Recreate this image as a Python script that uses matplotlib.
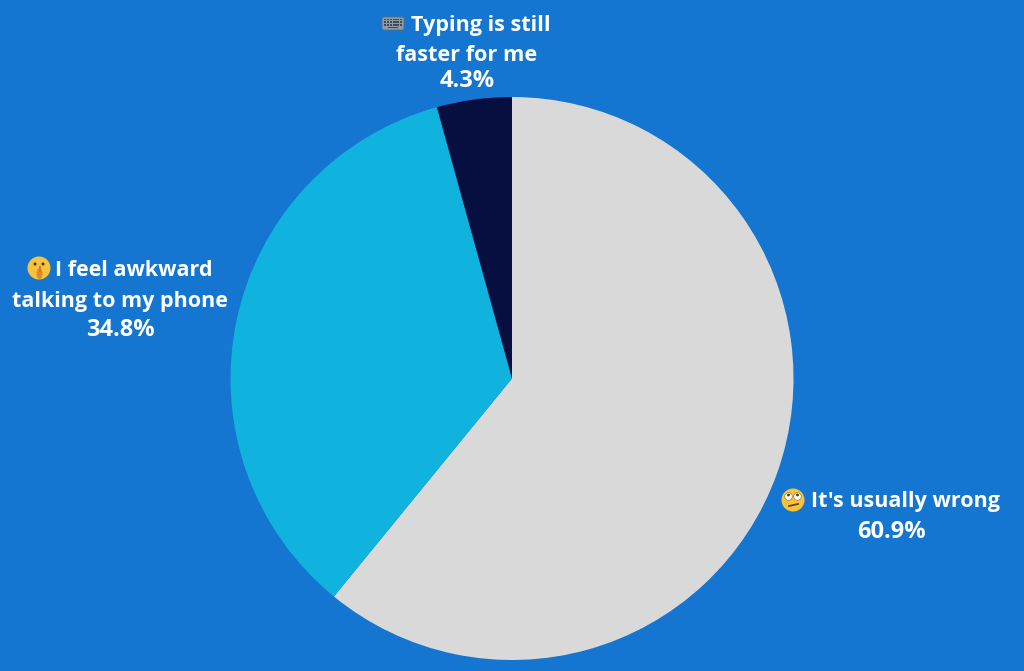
import matplotlib
matplotlib.use("Agg")
import matplotlib.pyplot as plt
from matplotlib.patches import Circle, Ellipse, FancyBboxPatch, Rectangle

# Data
categories = ["It's usually wrong", "I feel awkward talking to my phone", "Typing is still faster for me"]
values = [60.9, 34.8, 4.3]
value_labels = ["60.9%", "34.8%", "4.3%"]
label_lines = [
    ["It's usually wrong"],
    ["I feel awkward", "talking to my phone"],
    ["Typing is still", "faster for me"],
]
slice_colors = ["#D9D9D9", "#10B3DE", "#060F40"]
BG = "#1476D0"
W, H = 1024, 671
CX, CY, R = 512, 378.5, 281.5

plt.rcParams["font.family"] = ["Open Sans", "DejaVu Sans"]
fig = plt.figure(figsize=(W / 100, H / 100), dpi=100, facecolor=BG)

# Pie axes, sized so that the unit circle has the reference radius
ax = fig.add_axes([(CX - R) / W, 1 - (CY + R) / H, 2 * R / W, 2 * R / H])
ax.pie(values, colors=slice_colors, startangle=90, counterclock=False, radius=1)
ax.set_xlim(-1, 1)
ax.set_ylim(-1, 1)
ax.set_aspect("equal")
ax.axis("off")

# Overlay in pixel coordinates for labels and emoji icons
ov = fig.add_axes([0, 0, 1, 1], facecolor="none")
ov.set_xlim(0, W)
ov.set_ylim(H, 0)
ov.axis("off")

label_pos = [
    [(905.5, 502)],
    [(134, 270), (120, 301)],
    [(481, 25), (467, 55.5)],
]
value_pos = [(891, 531.5), (120, 330.5), (467, 81)]
label_sizes = [15.5, 15.5, 15.6]
for lines, positions, size in zip(label_lines, label_pos, label_sizes):
    for line, (x, y) in zip(lines, positions):
        ov.text(x, y, line, color="white", fontsize=size, fontweight="bold",
                ha="center", va="center")
for text, (x, y) in zip(value_labels, value_pos):
    ov.text(x, y, text, color="white", fontsize=17, fontweight="bold",
            ha="center", va="center")


def face(x, y, r=11.5):
    ov.add_patch(Circle((x, y), r, fc="#F7C23C", ec="none", zorder=3))


# Rolling-eyes emoji
ex, ey = 793, 500
face(ex, ey)
for dx in (-4.5, 4.5):
    ov.add_patch(Circle((ex + dx, ey - 3.5), 3.8, fc="white", ec="#8A6A2A", lw=0.4, zorder=4))
    ov.add_patch(Circle((ex + dx, ey - 5), 1.4, fc="#4A3510", ec="none", zorder=5))
ov.plot([ex - 4, ex + 5], [ey + 6, ey + 4], color="#6B4A12", lw=1.3, zorder=4)

# Shushing emoji
ex, ey = 39, 268
face(ex, ey)
for dx in (-4, 4):
    ov.add_patch(Circle((ex + dx, ey - 4), 1.5, fc="#4A3510", ec="none", zorder=4))
ov.add_patch(Ellipse((ex + 0.5, ey + 5.5), 6, 11, fc="#E08A2C", ec="none", zorder=4))
ov.add_patch(Rectangle((ex - 0.5, ey - 2), 2.2, 6, fc="#D9792A", ec="none", zorder=5))

# Keyboard emoji
kx, ky, kw, kh = 382, 17, 22, 13
ov.add_patch(FancyBboxPatch((kx, ky), kw, kh, boxstyle="round,pad=0,rounding_size=2",
                            fc="#8E9BA5", ec="#5F6B75", lw=0.6, zorder=3))
for row in range(3):
    for col in range(6):
        ov.add_patch(Rectangle((kx + 2 + col * 3.1, ky + 1.8 + row * 2.6), 2.2, 1.6,
                               fc="#3F4A54", ec="none", zorder=4))
ov.add_patch(Rectangle((kx + 6, ky + 9.6), 10, 1.7, fc="#3F4A54", ec="none", zorder=5))

fig.savefig("out.png", dpi=100, facecolor=BG)
